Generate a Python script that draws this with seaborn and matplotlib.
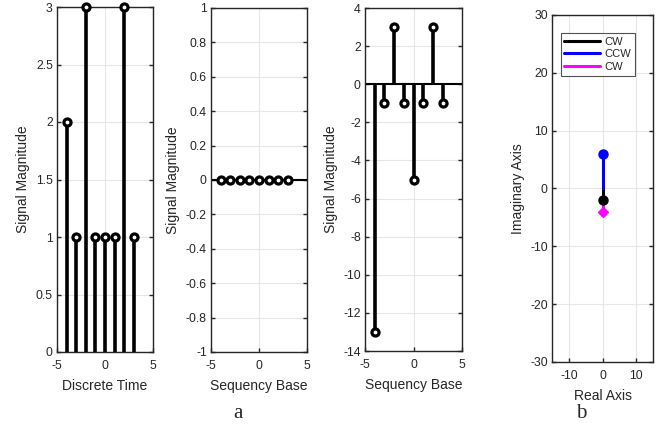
import numpy as np
import pandas as pd
import seaborn as sns
import matplotlib.pyplot as plt

# data
n = [-4, -3, -2, -1, 0, 1, 2, 3]
signal = [2, 1, 3, 1, 1, 1, 3, 1]
sequency_zero = [0, 0, 0, 0, 0, 0, 0, 0]
sequency_vals = [-13, -1, 3, -1, -5, -1, 3, -1]

comp_labels = ['CW', 'CCW', 'CW']
comp_real = [0, 0, 0]
comp_imag = [-2, 6, -4]
comp_colors = ['black', 'blue', 'magenta']
comp_markers = ['o', 'o', 'D']

sns.set_style('whitegrid')
plt.rcParams['font.family'] = ['Liberation Sans', 'DejaVu Sans']
plt.rcParams['axes.unicode_minus'] = False
plt.rcParams['axes.edgecolor'] = '#262626'
plt.rcParams['axes.linewidth'] = 1.0
plt.rcParams['grid.color'] = '#e6e6e6'
plt.rcParams['grid.linewidth'] = 0.8

fig = plt.figure(figsize=(6.62, 4.29), dpi=100)
LBL = 10
TCK = 8.8

def style_axes(ax):
    ax.tick_params(direction='in', length=3, width=1, labelsize=TCK,
                   colors='#262626', top=False, right=True, left=True, bottom=True,
                   labelcolor='#262626', pad=3)
    ax.tick_params(axis='x', pad=6)
    ax.xaxis.labelpad = 5
    for s in ax.spines.values():
        s.set_visible(True)
        s.set_color('#262626')
    ax.set_axisbelow(True)

def stem(ax, x, y):
    ax.vlines(x, 0, y, color='black', linewidth=2.6, zorder=2)
    df = pd.DataFrame({'x': x, 'y': y})
    sns.scatterplot(data=df, x='x', y='y', ax=ax, marker='o', s=26,
                    facecolor='white', edgecolor='black', linewidth=2.3,
                    zorder=3, clip_on=False)

# panel 1
ax1 = fig.add_axes([57 / 662, 1 - 352 / 429, 96 / 662, 345 / 429])
stem(ax1, n, signal)
ax1.set_xlim(-5, 5)
ax1.set_ylim(0, 3)
ax1.set_xticks([-5, 0, 5])
ax1.set_yticks(np.arange(0, 3.01, 0.5))
ax1.set_yticklabels(['0', '0.5', '1', '1.5', '2', '2.5', '3'])
ax1.set_xlabel('Discrete Time', fontsize=LBL, color='#262626')
ax1.set_ylabel('Signal Magnitude', fontsize=LBL, color='#262626')
style_axes(ax1)

# panel 2
ax2 = fig.add_axes([211 / 662, 1 - 352 / 429, 96 / 662, 344 / 429])
ax2.axhline(0, color='black', linewidth=1.5, zorder=2)
stem(ax2, n, sequency_zero)
ax2.set_xlim(-5, 5)
ax2.set_ylim(-1, 1)
ax2.set_xticks([-5, 0, 5])
yt = np.round(np.arange(-1, 1.01, 0.2), 1)
ax2.set_yticks(yt)
ax2.set_yticklabels(['-1', '-0.8', '-0.6', '-0.4', '-0.2', '0', '0.2', '0.4', '0.6', '0.8', '1'])
ax2.set_xlabel('Sequency Base', fontsize=LBL, color='#262626')
ax2.set_ylabel('Signal Magnitude', fontsize=LBL, color='#262626')
style_axes(ax2)

# panel 3
ax3 = fig.add_axes([365 / 662, 1 - 351 / 429, 97 / 662, 343 / 429])
ax3.axhline(0, color='black', linewidth=1.5, zorder=2)
stem(ax3, n, sequency_vals)
ax3.set_xlim(-5, 5)
ax3.set_ylim(-14, 4)
ax3.set_xticks([-5, 0, 5])
ax3.set_yticks(np.arange(-14, 4.1, 2))
ax3.set_xlabel('Sequency Base', fontsize=LBL, color='#262626')
ax3.set_ylabel('Signal Magnitude', fontsize=LBL, color='#262626')
style_axes(ax3)

# panel 4 - compass style
ax4 = fig.add_axes([552 / 662, 1 - 362 / 429, 101 / 662, 347 / 429])
for lab, xr, yi, c, m in zip(comp_labels, comp_real, comp_imag, comp_colors, comp_markers):
    start = 0 if m == 'o' else -2
    pts = pd.DataFrame({'x': [xr, xr], 'y': [start, yi]})
    sns.lineplot(data=pts, x='x', y='y', ax=ax4, color=c, linewidth=2.2,
                 label=lab, sort=False, estimator=None, zorder=3)
    ax4.plot([xr], [yi], marker=m, color=c, markersize=6.5 if m == 'o' else 5.5, zorder=4)
ax4.set_xlim(-15, 15)
ax4.set_ylim(-30, 30)
ax4.set_xticks([-10, 0, 10])
ax4.set_yticks(np.arange(-30, 31, 10))
ax4.set_xlabel('Real Axis', fontsize=LBL, color='#262626')
ax4.set_ylabel('Imaginary Axis', fontsize=LBL, color='#262626')
style_axes(ax4)
leg = ax4.legend(loc='upper left', bbox_to_anchor=(0.03, 0.965), fontsize=8,
                 frameon=True, fancybox=False, edgecolor='#262626',
                 handlelength=3.2, borderpad=0.35, labelspacing=0.25, handletextpad=0.4)
leg.get_frame().set_linewidth(0.8)

fig.text(238 / 662, 1 - 413 / 429, 'a', fontsize=15, family='Liberation Serif',
         ha='center', va='center')
fig.text(581 / 662, 1 - 413 / 429, 'b', fontsize=15, family='Liberation Serif',
         ha='center', va='center')

fig.savefig('out.png', dpi=100)
